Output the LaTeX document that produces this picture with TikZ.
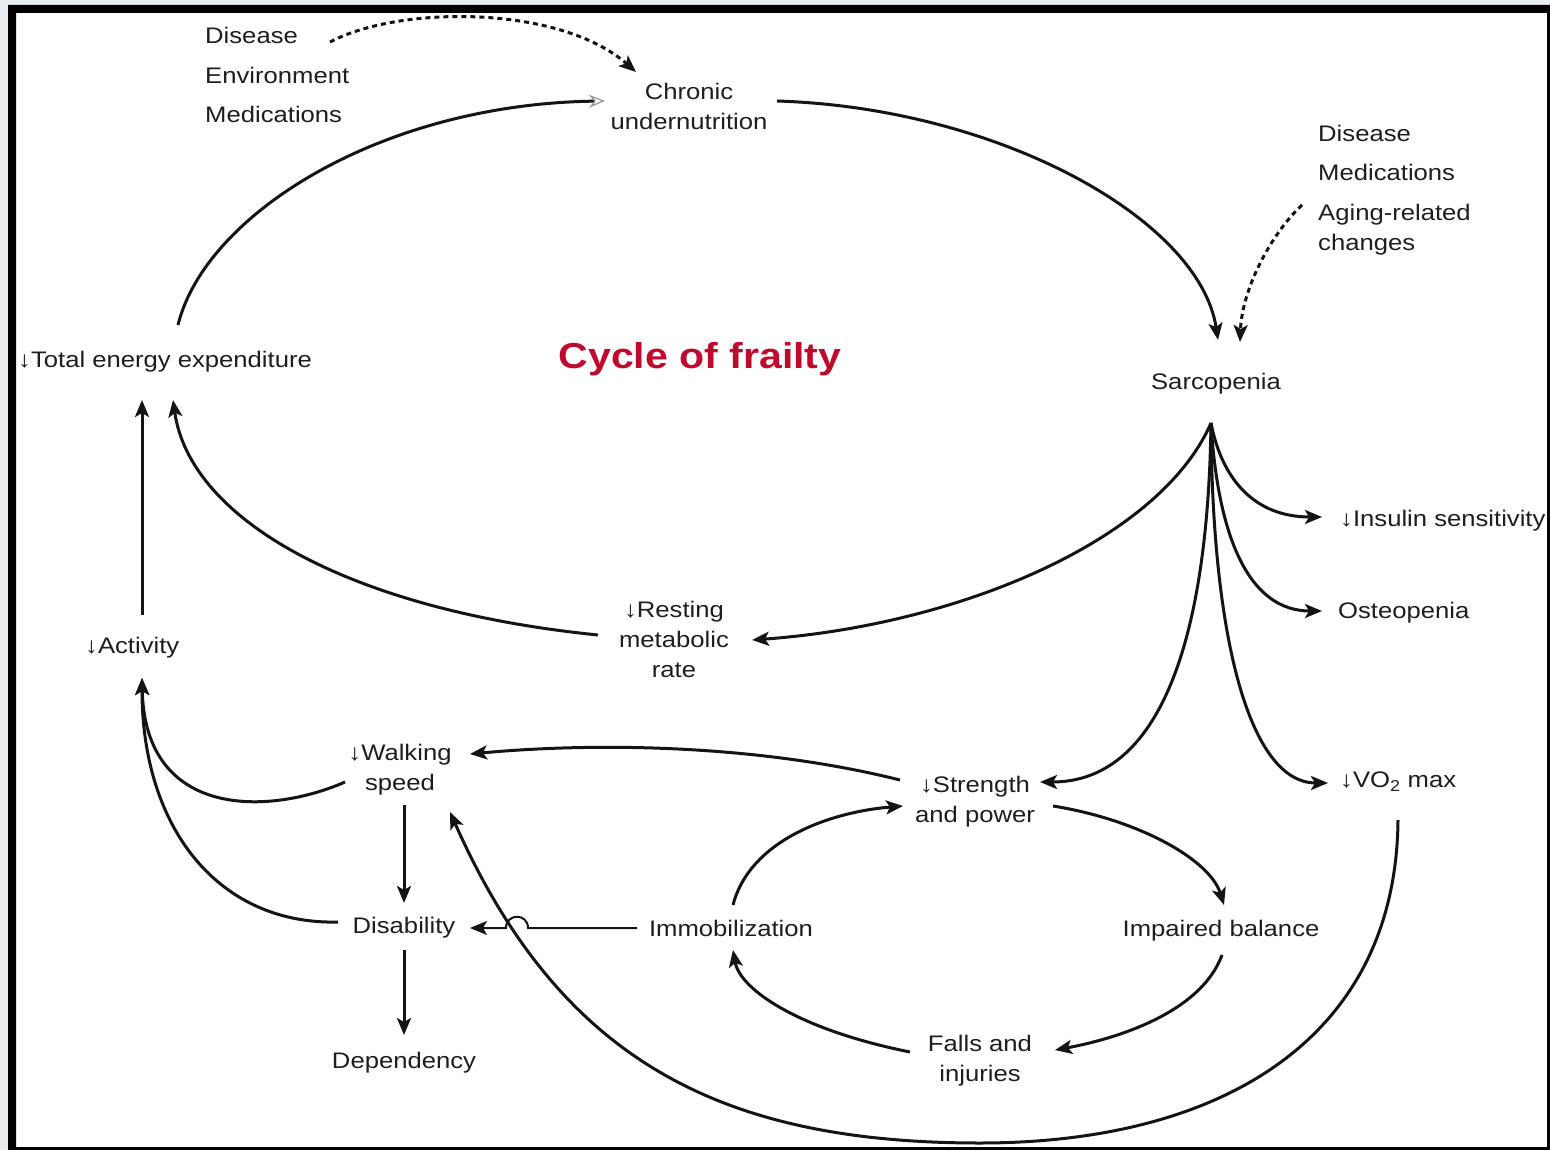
\documentclass[tikz,border=0pt]{standalone}
\usepackage{fontspec}
\setmainfont{Liberation Sans}[FakeStretch=1.14]
\usetikzlibrary{arrows.meta,calc}
\definecolor{txt}{RGB}{30,30,30}
\definecolor{titlered}{RGB}{190,10,45}
\definecolor{outerbg}{RGB}{232,237,240}
\newcommand\zerodp[1]{\raisebox{0pt}[\height][0pt]{#1}}
\begin{document}
\begin{tikzpicture}[x=1pt,y=-1pt,
  lbl/.style={inner sep=0pt, text=txt, font=\fontsize{22.5}{30}\selectfont, align=center},
  lblw/.style={lbl, anchor=west, align=left},
  conn/.style={line width=3pt, draw=black!92, -{Stealth[length=17pt,width=14pt,inset=4pt]}},
  dashconn/.style={conn, dash pattern=on 5pt off 4pt},
  thinconn/.style={conn, line width=2pt},
  openconn/.style={line width=3pt, draw=black!92, -{Stealth[open,length=16pt,width=13pt,line width=1.3pt,color=black!40]}}
]
\useasboundingbox (0,0) rectangle (1550,1150);
\fill[outerbg] (0,0) rectangle (1550,1150);
\fill[white] (16,13) rectangle (1547,1147);

% labels
\node[lblw] (dis1) at (205,35) {Disease};
\node[lblw] (env) at (205,75) {Environment};
\node[lblw] (med1) at (205,114) {Medications};
\node[lbl] (chronic) at (689,106) {Chronic\\undernutrition};
\node[lblw] (dis2) at (1318,133) {Disease};
\node[lblw] (med2) at (1318,172) {Medications};
\node[lblw] (aging) at (1318,227) {Aging-related\\\zerodp{changes}};
\node[lblw] (tee) at (18,359) {\zerodp{↓Total energy expenditure}};
\node[inner sep=0pt, text=titlered, font=\fontsize{36}{40}\selectfont\bfseries] (title) at (700,355) {\zerodp{Cycle of frailty}};
\node[lbl] (sarc) at (1216,381) {\zerodp{Sarcopenia}};
\node[lblw] (insulin) at (1340,518) {\zerodp{↓Insulin sensitivity}};
\node[lblw] (osteo) at (1338,610) {\zerodp{Osteopenia}};
\node[lbl] (rmr) at (674,639) {↓Resting\\metabolic\\rate};
\node[lblw] (act) at (85,645) {\zerodp{↓Activity}};
\node[lbl] (walk) at (400,767) {↓Walking\\\zerodp{speed}};
\node[lbl] (strength) at (975,799) {↓Strength\\\zerodp{and power}};
\node[lblw] (vo2) at (1340,782) {↓VO\textsubscript{2} max};
\node[lbl] (disab) at (404,925) {\zerodp{Disability}};
\node[lbl] (immob) at (731,928) {Immobilization};
\node[lbl] (impbal) at (1221,928) {\zerodp{Impaired balance}};
\node[lbl] (falls) at (980,1058) {Falls and\\\zerodp{injuries}};
\node[lbl] (depend) at (404,1060) {\zerodp{Dependency}};

% dashed influences
\draw[dashconn] ([shift={(125,7)}]dis1.west) .. controls (400,5) and (560,5) .. ([shift={(-53,-34)}]chronic.center);
\draw[dashconn] ([shift={(-16,-22)}]aging.west) .. controls (1270,235) and (1242,290) .. ([shift={(24,-39)}]sarc.center);

% main cycle
\draw[openconn] ([shift={(160,-34)}]tee.west) .. controls (205,215) and (380,104) .. ([shift={(-84,-5)}]chronic.center);
\draw[conn] ([shift={(88,-5)}]chronic.center) .. controls (1000,108) and (1200,220) .. ([shift={(2,-41)}]sarc.center);

% sarcopenia fan
\draw[conn] ([shift={(-5,42)}]sarc.center) .. controls (1160,540) and (960,625) .. ([shift={(78,1)}]rmr.center);
\draw[conn] ([shift={(-5,42)}]sarc.center) .. controls (1222,480) and (1255,517) .. ([shift={(-18,-1)}]insulin.west);
\draw[conn] ([shift={(-5,42)}]sarc.center) .. controls (1218,540) and (1250,611) .. ([shift={(-16,1)}]osteo.west);
\draw[conn] ([shift={(-5,42)}]sarc.center) .. controls (1212,640) and (1250,783) .. ([shift={(-12,1)}]vo2.west);
\draw[conn] ([shift={(-5,42)}]sarc.center) .. controls (1208,640) and (1160,782) .. ([shift={(65,-17)}]strength.center);

% back to total energy expenditure
\draw[conn] ([shift={(-76,-4)}]rmr.center) .. controls (350,610) and (190,520) .. ([shift={(155,41)}]tee.west);
\draw[conn] ([shift={(57,-30)}]act.west) -- ([shift={(124,41)}]tee.west);

% to activity
\draw[conn] ([shift={(-55,15)}]walk.center) .. controls (270,815) and (145,820) .. ([shift={(57,33)}]act.west);
\draw[conn] ([shift={(-66,-3)}]disab.center) .. controls (220,925) and (142,830) .. ([shift={(57,33)}]act.west);

% walking / disability / dependency
\draw[conn] ([shift={(4,38)}]walk.center) -- ([shift={(0,-22)}]disab.center);
\draw[conn] ([shift={(0,25)}]disab.center) -- ([shift={(0,-25)}]depend.center);
\draw[conn] ([shift={(-75,-19)}]strength.center) .. controls (760,745) and (600,742) .. ([shift={(70,-13)}]walk.center);

% inner loop
\draw[conn] ([shift={(2,-23)}]immob.center) .. controls (750,840) and (830,812) .. ([shift={(-72,7)}]strength.center);
\draw[conn] ([shift={(78,7)}]strength.center) .. controls (1140,820) and (1210,860) .. ([shift={(3,-23)}]impbal.center);
\draw[conn] ([shift={(1,27)}]impbal.center) .. controls (1200,1015) and (1110,1040) .. ([shift={(75,-8)}]falls.center);
\draw[conn] ([shift={(-70,-6)}]falls.center) .. controls (800,1030) and (740,990) .. ([shift={(2,22)}]immob.center);

% immobilization to disability with hop
\draw[thinconn] ([shift={(-94,0)}]immob.center) -- (528,928) .. controls (528,913) and (506,913) .. (506,928) -- ([shift={(66,3)}]disab.center);

% big curve VO2 max to walking speed
\draw[conn] ([shift={(58,38)}]vo2.west) .. controls (1396,1040) and (1220,1143) .. (980,1143) .. controls (720,1143) and (560,1060) .. ([shift={(50,45)}]walk.center);

% frame
\fill[black, even odd rule] (8,5) rectangle (1550,1150) (16,13) rectangle (1547,1147);
\end{tikzpicture}
\end{document}
